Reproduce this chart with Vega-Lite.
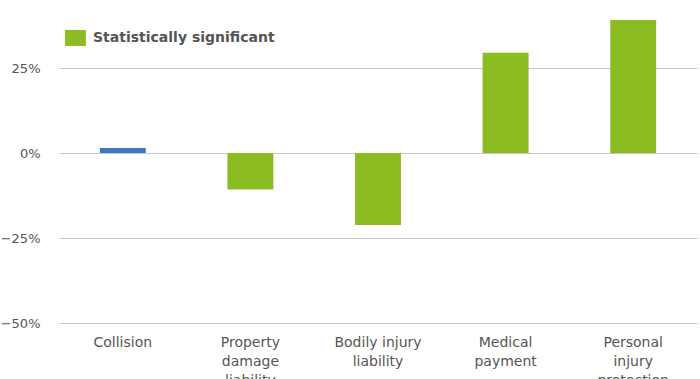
{
  "$schema": "https://vega.github.io/schema/vega-lite/v6.json",
  "autosize": {"type": "none"},
  "padding": {"left": 59, "top": 17, "right": 3, "bottom": 56},
  "width": 638,
  "height": 306,
  "background": "white",
  "config": {
    "view": {"stroke": null},
    "font": "DejaVu Sans"
  },
  "data": {
    "values": [
      {"coverage": "Collision", "change": 0.015, "significance": "Not significant"},
      {"coverage": "Property damage liability", "change": -0.107, "significance": "Statistically significant"},
      {"coverage": "Bodily injury liability", "change": -0.212, "significance": "Statistically significant"},
      {"coverage": "Medical payment", "change": 0.295, "significance": "Statistically significant"},
      {"coverage": "Personal injury protection", "change": 0.391, "significance": "Statistically significant"}
    ]
  },
  "mark": {"type": "bar"},
  "encoding": {
    "x": {
      "field": "coverage",
      "type": "nominal",
      "sort": null,
      "scale": {"paddingInner": 0.64, "paddingOuter": 0.32},
      "axis": {
        "title": null,
        "labelAngle": 0,
        "domain": false,
        "ticks": false,
        "grid": false,
        "labelPadding": 12,
        "labelFontSize": 14,
        "labelColor": "#555555",
        "labelLineHeight": 19,
        "labelLimit": 0,
        "labelExpr": "datum.value == 'Property damage liability' ? ['Property', 'damage', 'liability'] : datum.value == 'Bodily injury liability' ? ['Bodily injury', 'liability'] : datum.value == 'Medical payment' ? ['Medical', 'payment'] : datum.value == 'Personal injury protection' ? ['Personal', 'injury', 'protection'] : datum.value"
      }
    },
    "y": {
      "field": "change",
      "type": "quantitative",
      "scale": {"domain": [-0.5, 0.4], "nice": false, "zero": true},
      "axis": {
        "title": null,
        "values": [-0.5, -0.25, 0, 0.25],
        "format": ".0%",
        "domain": false,
        "ticks": false,
        "labelPadding": 19,
        "labelFontSize": 13,
        "labelColor": "#555555",
        "gridColor": "#c8c8c8",
        "gridWidth": 1.2
      }
    },
    "color": {
      "field": "significance",
      "type": "nominal",
      "scale": {
        "domain": ["Statistically significant", "Not significant"],
        "range": ["#8bbd22", "#3b78c4"]
      },
      "legend": {
        "title": null,
        "values": ["Statistically significant"],
        "orient": "none",
        "legendX": 8.5,
        "legendY": 13,
        "padding": 0,
        "symbolType": "M-1.3,-1H1.3V1H-1.3Z",
        "symbolSize": 256,
        "symbolStrokeWidth": 0,
        "symbolOpacity": 1,
        "labelFontSize": 14,
        "labelFontWeight": "bold",
        "labelColor": "#555555",
        "labelOffset": 9.5,
        "labelLimit": 0
      }
    }
  }
}
